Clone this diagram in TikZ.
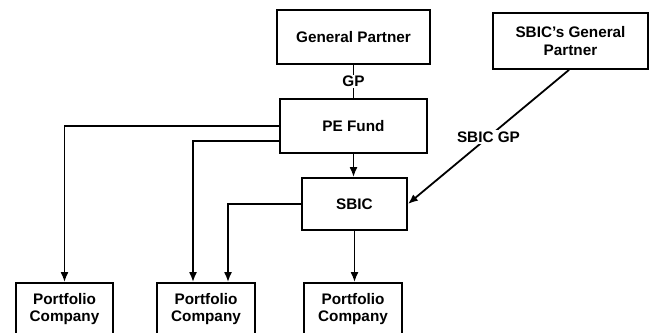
\documentclass[tikz,border=0pt]{standalone}
\usepackage{fontspec}
\setmainfont{Liberation Sans}
\usetikzlibrary{arrows.meta}
\begin{document}
\begin{tikzpicture}[x=1pt,y=-1pt,
  box/.style={draw, line width=1.8pt, inner sep=0pt, align=center,
    font=\fontsize{15.3}{17.7}\selectfont\bfseries},
  conn/.style={line width=1.8pt},
  arr/.style={line width=1.8pt, -{Latex[length=10pt,width=8pt]}},
  lbl/.style={fill=white, inner sep=1.5pt, font=\fontsize{15.3}{17.7}\selectfont\bfseries}]
\useasboundingbox (0,0) rectangle (652,332);
\clip (0,0) rectangle (652,332);
\node[box, minimum width=153pt, minimum height=54pt] (gp) at (353.5,37) {General Partner};
\node[box, minimum width=155pt, minimum height=56pt] (sgp) at (570.5,41) {SBIC's General\\Partner};
\node[box, minimum width=147pt, minimum height=54pt] (pe) at (353.5,126) {PE Fund};
\node[box, minimum width=105pt, minimum height=52pt] (sbic) at (354.5,204) {SBIC};
\node[box, minimum width=97pt, minimum height=52pt] (p1) at (64.5,309) {Portfolio\\Company};
\node[box, minimum width=98pt, minimum height=52pt] (p2) at (206,309) {Portfolio\\Company};
\node[box, minimum width=98pt, minimum height=52pt] (p3) at (353,309) {Portfolio\\Company};

\draw[conn] (gp.south) -- node[lbl] {GP} (gp.south |- pe.north);
\draw[arr] (pe.south) -- (pe.south |- sbic.north);
\draw[arr] (pe.west) -| (p1.north);
\draw[arr] ([yshift=-15pt]pe.west) -| ([xshift=-13pt]p2.north);
\draw[arr] (sbic.west) -| ([xshift=22pt]p2.north);
\draw[arr] (sbic.south) -- (sbic.south |- p3.north);
\draw[arr] ([xshift=-1.5pt]sgp.south) -- node[lbl] {SBIC GP} (sbic.east);
\end{tikzpicture}
\end{document}
